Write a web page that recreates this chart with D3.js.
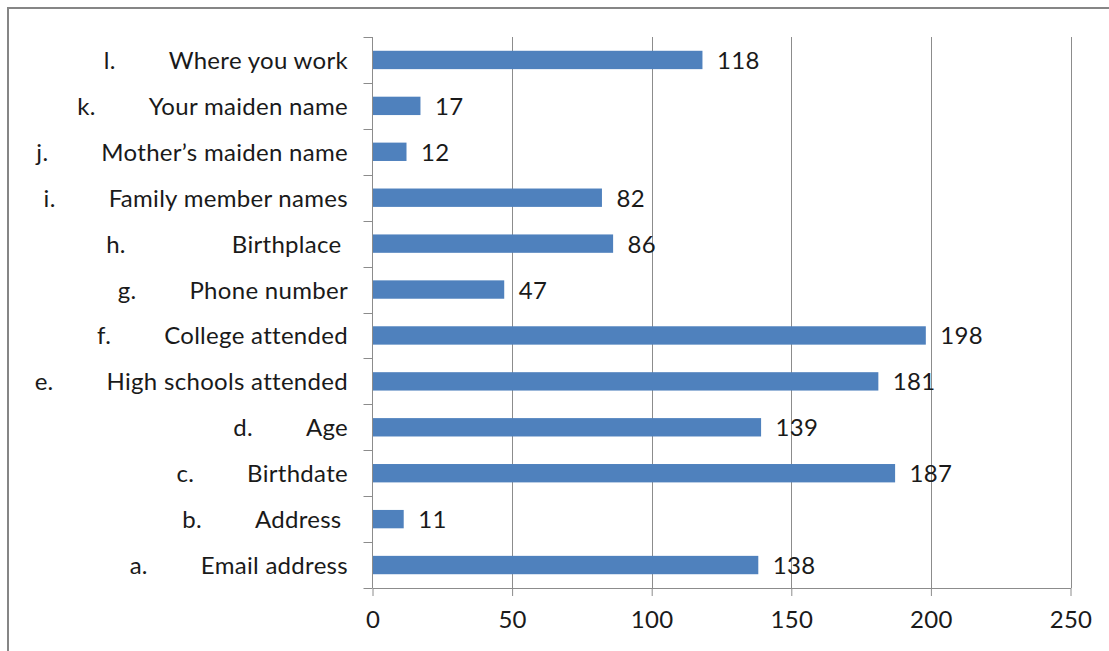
<!DOCTYPE html>
<html>
<head>
<meta charset="utf-8">
<script src="https://cdn.jsdelivr.net/npm/d3@7"></script>
<style>
  html, body { margin: 0; padding: 0; background: #fff; }
  svg { display: block; }
  text { font-family: Lato, "Open Sans", sans-serif; fill: #1a1a1a; letter-spacing: 0.3px; }
</style>
</head>
<body>
<svg id="chart" width="1109" height="651"></svg>
<script>
// Survey items, listed bottom to top as they appear on the axis
const prefixes = ["a.", "b.", "c.", "d.", "e.", "f.", "g.", "h.", "i.", "j.", "k.", "l."];
const names = ["Email address", "Address ", "Birthdate", "Age", "High schools attended",
  "College attended", "Phone number", "Birthplace ", "Family member names",
  "Mother\u2019s maiden name", "Your maiden name", "Where you work"];
const tabs = [1, 1, 1, 1, 1, 1, 1, 2, 1, 1, 1, 1];
const counts = [138, 11, 187, 139, 181, 198, 47, 86, 82, 12, 17, 118];
const xTicks = [0, 50, 100, 150, 200, 250];

const rows = names.map((n, i) => ({ key: prefixes[i], prefix: prefixes[i], name: n, tabs: tabs[i], value: counts[i] }));

const svg = d3.select("#chart");
const W = 1109, H = 651;
const plot = { left: 372.5, right: 1070.5, top: 37, bottom: 588 };
const axisColor = "#8c8c8c";
const barColor = "#4f81bd";
const fontSize = 24;

// frame around the chart area
svg.append("rect")
  .attr("x", 8).attr("y", 8)
  .attr("width", W + 10).attr("height", H + 10)
  .attr("fill", "none").attr("stroke", "#868686").attr("stroke-width", 2);

const x = d3.scaleLinear().domain([0, 250]).range([plot.left, plot.right]);
const y = d3.scaleBand()
  .domain(rows.map(d => d.key).reverse())
  .range([plot.top, plot.bottom])
  .paddingInner(0.6).paddingOuter(0.3);

// vertical gridlines
svg.append("g")
  .selectAll("line")
  .data(xTicks.filter(t => t > 0))
  .join("line")
  .attr("x1", d => Math.round(x(d)) + 0.5).attr("x2", d => Math.round(x(d)) + 0.5)
  .attr("y1", plot.top).attr("y2", plot.bottom)
  .attr("stroke", axisColor).attr("stroke-width", 1);

// bottom axis
const xAxis = d3.axisBottom(x).tickValues(xTicks).tickSize(8).tickPadding(15).tickSizeOuter(0);
const gx = svg.append("g").attr("transform", `translate(0,${plot.bottom})`).call(xAxis);
gx.select(".domain").attr("stroke", axisColor);
gx.selectAll(".tick line").attr("stroke", axisColor);
gx.selectAll(".tick text")
  .attr("font-size", fontSize).style("font-family", "Lato, sans-serif").attr("fill", "#1a1a1a");

// left axis line with ticks at category boundaries
const boundaries = d3.range(rows.length + 1).map(i => plot.top + i * (plot.bottom - plot.top) / rows.length);
svg.append("line")
  .attr("x1", plot.left).attr("x2", plot.left)
  .attr("y1", plot.top).attr("y2", plot.bottom)
  .attr("stroke", axisColor);
svg.append("g").selectAll("line")
  .data(boundaries)
  .join("line")
  .attr("x1", plot.left - 9).attr("x2", plot.left)
  .attr("y1", d => Math.round(d) + 0.5).attr("y2", d => Math.round(d) + 0.5)
  .attr("stroke", axisColor);

// bars
svg.append("g").selectAll("rect")
  .data(rows)
  .join("rect")
  .attr("x", x(0) + 0.5)
  .attr("y", d => y(d.key))
  .attr("width", d => x(d.value) - x(0))
  .attr("height", y.bandwidth())
  .attr("fill", barColor);

// value labels
svg.append("g").selectAll("text")
  .data(rows)
  .join("text")
  .attr("x", d => x(d.value) + 15)
  .attr("y", d => y(d.key) + y.bandwidth() / 2 + 9)
  .attr("font-size", fontSize)
  .text(d => d.value);

// category labels: item name right aligned, letter placed one tab stop to its left
const labelEnd = 348;
const tabGap = 53;
const lg = svg.append("g");
rows.forEach(d => {
  const cy = y(d.key) + y.bandwidth() / 2 + 9;
  const nm = lg.append("text")
    .attr("x", labelEnd).attr("y", cy)
    .attr("text-anchor", "end")
    .attr("font-size", fontSize)
    .style("white-space", "pre")
    .text(d.name);
  const w = nm.node().getComputedTextLength();
  lg.append("text")
    .attr("x", labelEnd - w - tabGap * d.tabs).attr("y", cy)
    .attr("text-anchor", "end")
    .attr("font-size", fontSize)
    .text(d.prefix);
});
</script>
</body>
</html>
